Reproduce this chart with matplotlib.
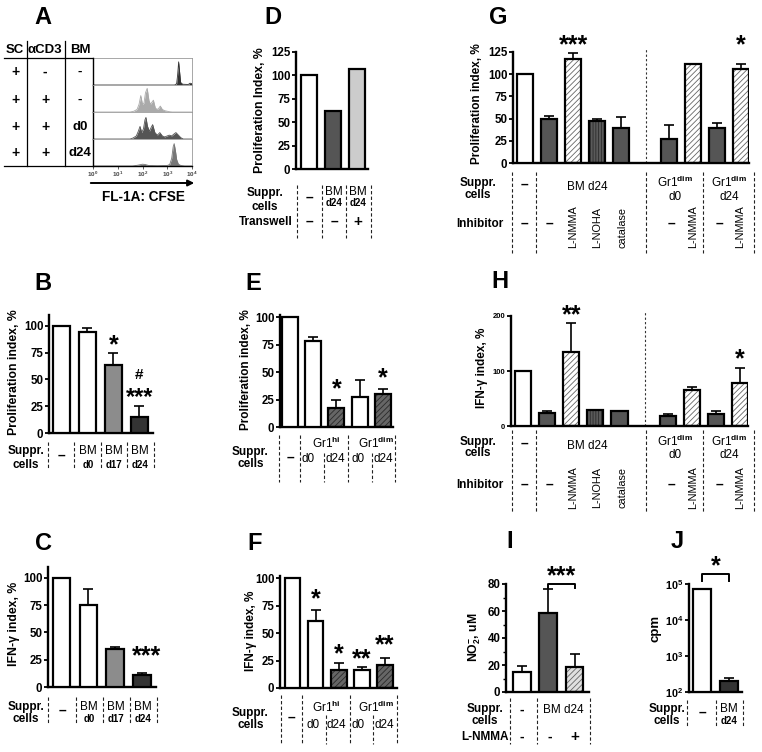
import matplotlib.pyplot as plt
import numpy as np

plt.rcParams['font.family'] = ['Liberation Sans', 'DejaVu Sans']
plt.rcParams['font.weight'] = 'bold'
plt.rcParams['mathtext.fontset'] = 'custom'
plt.rcParams['mathtext.rm'] = 'Liberation Sans'
plt.rcParams['mathtext.bf'] = 'Liberation Sans:bold'
plt.rcParams['mathtext.it'] = 'Liberation Sans:italic'
plt.rcParams['hatch.linewidth'] = 0.6

W, H = 762, 752

# ---- data -------------------------------------------------------------
# A: CFSE histograms, (log10 intensity, relative height)
hist_none = [(0, 0), (3.30, 0), (3.38, 0.05), (3.42, 0.4), (3.46, 0.9), (3.50, 0.5),
             (3.54, 0.1), (3.62, 0.03), (3.85, 0.02), (3.92, 0.07), (4.0, 0.05)]
hist_cd3 = [(0, 0), (1.5, 0), (1.65, 0.03), (1.78, 0.1), (1.86, 0.3), (1.93, 0.64), (2.0, 0.3),
            (2.06, 0.35), (2.12, 0.75), (2.19, 0.92), (2.26, 0.45), (2.32, 0.3), (2.38, 0.38),
            (2.44, 0.46), (2.52, 0.15), (2.6, 0.1), (2.66, 0.15), (2.72, 0.23), (2.8, 0.1),
            (2.9, 0.05), (3.1, 0.01), (3.2, 0), (4.0, 0)]
hist_d0 = [(0, 0), (1.5, 0), (1.62, 0.04), (1.75, 0.12), (1.83, 0.3), (1.9, 0.49), (1.97, 0.25),
           (2.04, 0.4), (2.1, 0.75), (2.14, 0.84), (2.2, 0.5), (2.28, 0.3), (2.35, 0.45),
           (2.41, 0.56), (2.5, 0.25), (2.6, 0.15), (2.7, 0.25), (2.8, 0.12), (2.9, 0.08),
           (3.0, 0.12), (3.08, 0.15), (3.18, 0.12), (3.28, 0.2), (3.35, 0.25), (3.45, 0.15),
           (3.55, 0.05), (3.65, 0), (4.0, 0)]
hist_d24 = [(0, 0), (1.6, 0), (1.8, 0.03), (2.0, 0.07), (2.1, 0.06), (2.25, 0.02), (2.6, 0.01),
            (3.0, 0.02), (3.1, 0.06), (3.18, 0.3), (3.24, 0.75), (3.28, 0.87), (3.33, 0.6),
            (3.38, 0.25), (3.45, 0.07), (3.55, 0.02), (3.7, 0), (4.0, 0)]
hist_colors = ['#333333', '#aaaaaa', '#555555', '#777777']

b_vals = [100, 94, 63, 15]
b_err = [0, 4, 12, 10.5]
b_style = ['white', 'white', 'mid', 'black']

c_vals = [100, 75, 35, 11]
c_err = [0, 15, 2, 2]
c_style = ['white', 'white', 'mid', 'black']

d_vals = [100, 62, 107]
d_style = ['white', 'dark', 'light']

e_vals = [100, 78, 17.5, 27.5, 30.5]
e_err = [0, 4, 7.5, 15.5, 4.5]
f_vals = [100, 61, 16.5, 16, 20.5]
f_err = [0, 10, 6.5, 3.5, 7]
ef_style = ['white', 'white', 'hatchdark', 'white', 'hatchdark']

gh_pos = [0, 1, 2, 3, 4, 6, 7, 8, 9]
g_vals = [100, 49.5, 117, 47, 39, 27, 112, 39, 106]
g_err = [0, 3.5, 6.5, 3, 13, 16, 0, 6, 5]
h_vals = [100, 24, 134, 30, 27.5, 18, 65, 21, 79]
h_err = [0, 4, 54, 0, 0, 3, 6, 7, 26]
gh_style = ['white', 'dark', 'hatchlight', 'vhatch', 'dark', 'dark', 'hatchlight', 'dark', 'hatchlight']

i_vals = [15, 58.5, 18.3]
i_err = [4.5, 17.5, 9.7]
i_style = ['white', 'dark', 'hatchgray']

j_vals = [7.1e4, 206]
j_err = [0, 34]
j_style = ['white', 'black']

styles = {
    'white': ('white', None, None),
    'mid': ('#8c8c8c', None, None),
    'black': ('#333333', None, None),
    'dark': ('#555555', None, None),
    'light': ('#cccccc', None, None),
    'hatchdark': ('#666666', '//////', '#2a2a2a'),
    'hatchlight': ('white', '//////', '#666666'),
    'hatchgray': ('#e0e0e0', '//////', '#666666'),
    'vhatch': ('#5a5a5a', '||||||', '#2a2a2a'),
}

LAB = 8.8    # axis titles
TCK = 8.3    # tick labels
TAB = 8.5    # table text
SUB = 7      # small bold d0/d24 under BM
DASH = 10

fig = plt.figure(figsize=(W / 100, H / 100), dpi=100)


def add_ax(x0, x1, ybot, ytop):
    return fig.add_axes([x0 / W, 1 - ybot / H, (x1 - x0) / W, (ybot - ytop) / H])


def bar_panel(ax, x, vals, errs, kinds, width=0.66, bottom=0, tick_size=TCK):
    for xi, v, k in zip(x, vals, kinds):
        fc, hatch, hc = styles[k]
        if hatch:
            ax.bar(xi, v - bottom, width, bottom=bottom, color=fc, hatch=hatch,
                   edgecolor=hc, linewidth=0, zorder=2)
            ax.bar(xi, v - bottom, width, bottom=bottom, fill=False,
                   edgecolor='black', linewidth=1.6, zorder=3)
        else:
            ax.bar(xi, v - bottom, width, bottom=bottom, color=fc,
                   edgecolor='black', linewidth=1.6, zorder=3)
    if errs is not None:
        xe = [xi for xi, e in zip(x, errs) if e > 0]
        ve = [v for v, e in zip(vals, errs) if e > 0]
        ee = [e for e in errs if e > 0]
        ax.errorbar(xe, ve, yerr=[np.zeros(len(ee)), ee], fmt='none', ecolor='black',
                    elinewidth=1.2, capsize=3.5, capthick=1.2, zorder=4)
    for s in ['top', 'right']:
        ax.spines[s].set_visible(False)
    for s in ['left', 'bottom']:
        ax.spines[s].set_linewidth(1.7)
    ax.set_xticks([])
    ax.tick_params(axis='y', length=3, width=1.3, labelsize=tick_size, pad=1)
    for lab in ax.get_yticklabels():
        lab.set_fontweight('bold')


def stars(ax, x, y, s, size=18):
    ax.text(x, y, s, ha='center', va='center', fontsize=size, fontweight='bold', clip_on=False)


# overlay in pixel coordinates for labels / tables
ov = fig.add_axes([0, 0, 1, 1], zorder=10)
ov.set_xlim(0, W)
ov.set_ylim(H, 0)
ov.axis('off')


def T(x, y, s, size=TAB, weight='bold', **kw):
    ov.text(x, y, s, ha=kw.pop('ha', 'center'), va=kw.pop('va', 'center'),
            fontsize=size, fontweight=weight, **kw)


def DL(x, y0, y1, **kw):
    ov.plot([x, x], [y0, y1], color='#222222', lw=0.8, ls=(0, (3, 2)), **kw)


# panel letters
for letter, lx, ly in [('A', 43, 17), ('B', 43, 283), ('C', 43, 543), ('D', 273, 17),
                       ('E', 253, 283), ('F', 255, 543), ('G', 498, 17), ('H', 500, 282),
                       ('I', 510, 542), ('J', 677, 542)]:
    T(lx, ly, letter, size=17)

# ---- A ---------------------------------------------------------------
rows = [58, 85, 112, 139, 166]
for i, (hist, col) in enumerate(zip([hist_none, hist_cd3, hist_d0, hist_d24], hist_colors)):
    ax = add_ax(93, 192, rows[i + 1], rows[i])
    hx = [p[0] for p in hist]
    hy = [p[1] for p in hist]
    ax.fill_between(hx, hy, color=col, lw=0)
    ax.plot(hx, hy, color=col, lw=0.6)
    ax.set_xlim(0, 4)
    ax.set_ylim(0, 1.05)
    ax.set_yticks([])
    for s in ['top', 'right', 'bottom']:
        ax.spines[s].set_color('#999999')
        ax.spines[s].set_linewidth(0.6)
    ax.spines['left'].set_linewidth(1.0)
    if i < 3:
        ax.set_xticks([])
    else:
        ax.spines['bottom'].set_color('black')
        ax.spines['bottom'].set_linewidth(1.0)
        ax.set_xticks([0, 1, 2, 3, 4])
        ax.set_xticklabels([r'$10^{%d}$' % k for k in range(5)])
        ax.tick_params(axis='x', length=2, width=0.6, labelsize=4.5, pad=1, colors='#444444')

T(15, 50, 'SC', size=9.5)
T(45, 50, 'αCD3', size=9.5)
T(80, 50, 'BM', size=9.5)
ov.plot([27, 27], [41, 166], color='black', lw=0.9)
ov.plot([65, 65], [41, 166], color='black', lw=0.9)
ov.plot([4, 93], [57.5, 57.5], color='black', lw=0.9)
ov.plot([4, 93], [166, 166], color='black', lw=0.9)
a_rows = [('+', '-', '-'), ('+', '+', '-'), ('+', '+', 'd0'), ('+', '+', 'd24')]
for ry, (c1, c2, c3) in zip([72, 100, 127, 153], a_rows):
    T(15, ry, c1, size=10)
    T(45, ry, c2, size=10)
    T(80, ry, c3, size=9.5)
ov.annotate('', xy=(197, 183), xytext=(88, 183),
            arrowprops=dict(arrowstyle='-|>', color='black', lw=1.4, mutation_scale=9))
T(143, 197, 'FL-1A: CFSE', size=9.8)

# ---- B ---------------------------------------------------------------
ax = add_ax(49, 153, 433, 315)
bar_panel(ax, range(4), b_vals, b_err, b_style, width=0.65)
ax.set_xlim(-0.48, 3.52)
ax.set_ylim(0, 110)
ax.set_yticks([0, 25, 50, 75, 100])
stars(ax, 2, 82, '*')
stars(ax, 3, 54, '#', size=11)
stars(ax, 3, 33, '***', size=17)
T(14, 372, 'Proliferation index, %', size=LAB, rotation=90)
for x in [48, 74, 101, 127, 154]:
    DL(x, 442, 469)
T(26, 451, 'Suppr.')
T(26, 465, 'cells')
T(61, 456, '–', size=DASH)
for x, d in [(88, 'd0'), (114, 'd17'), (140, 'd24')]:
    T(x, 451, 'BM', weight='normal')
    T(x, 465, d, size=SUB)

# ---- C ---------------------------------------------------------------
ax = add_ax(48, 156, 687, 567)
bar_panel(ax, range(4), c_vals, c_err, c_style, width=0.65)
ax.set_xlim(-0.5, 3.52)
ax.set_ylim(0, 110)
ax.set_yticks([0, 25, 50, 75, 100])
stars(ax, 3.15, 28, '***')
T(14, 624, 'IFN-γ index, %', size=LAB, rotation=90)
for x in [48, 76, 103, 130, 157]:
    DL(x, 697, 724)
T(26, 707, 'Suppr.')
T(26, 719, 'cells')
T(62, 711, '–', size=DASH)
for x, d in [(89, 'd0'), (116, 'd17'), (143, 'd24')]:
    T(x, 707, 'BM', weight='normal')
    T(x, 719, d, size=SUB)

# ---- D ---------------------------------------------------------------
ax = add_ax(296, 368, 169, 52)
bar_panel(ax, range(3), d_vals, None, d_style, width=0.7)
ax.set_xlim(-0.54, 2.46)
ax.set_ylim(0, 125)
ax.set_yticks([0, 25, 50, 75, 100, 125])
T(260, 110, 'Proliferation Index, %', size=LAB, rotation=90)
for x in [297, 322, 346, 371]:
    DL(x, 185, 238)
T(265, 193, 'Suppr.')
T(265, 207, 'cells')
T(266, 222, 'Transwell')
T(309, 198, '–', size=DASH)
for x in [334, 358]:
    T(x, 192, 'BM', weight='normal')
    T(x, 203, 'd24', size=SUB)
T(309, 222, '–', size=DASH)
T(334, 222, '–', size=DASH)
T(358, 222, '+', size=11)

# ---- E ---------------------------------------------------------------
ax = add_ax(280, 393, 427, 315)
bar_panel(ax, range(5), e_vals, e_err, ef_style, width=0.68)
ax.set_xlim(-0.41, 4.43)
ax.set_ylim(0, 102)
ax.set_yticks([0, 25, 50, 75, 100])
stars(ax, 2, 34, '*')
stars(ax, 4, 44, '*')
T(246, 370, 'Proliferation index, %', size=LAB - 0.3, rotation=90)
for x in [279, 300, 348, 395]:
    DL(x, 435, 482)
for x in [324, 372]:
    DL(x, 453, 482)
T(250, 452, 'Suppr.')
T(251, 464, 'cells')
T(290, 458, '–', size=DASH)
T(326, 443, r'Gr1$^{\mathrm{hi}}$', weight='normal')
T(376, 443, r'Gr1$^{\mathrm{dim}}$', weight='normal')
for x, d in [(308, 'd0'), (335, 'd24'), (358, 'd0'), (383, 'd24')]:
    T(x, 459, d, weight='normal')

# ---- F ---------------------------------------------------------------
ax = add_ax(280, 397, 688, 576)
bar_panel(ax, range(5), f_vals, f_err, ef_style, width=0.68)
ax.set_xlim(-0.54, 4.52)
ax.set_ylim(0, 102)
ax.set_yticks([0, 25, 50, 75, 100])
stars(ax, 1, 81, '*')
stars(ax, 2, 31, '*')
stars(ax, 3, 26, '**')
stars(ax, 4, 39, '**')
T(251, 631, 'IFN-γ index, %', size=LAB - 0.3, rotation=90)
for x in [281, 302, 350, 397]:
    DL(x, 695, 744)
for x in [326, 373]:
    DL(x, 715, 744)
T(250, 713, 'Suppr.')
T(251, 725, 'cells')
T(291, 718, '–', size=DASH)
T(326, 707, r'Gr1$^{\mathrm{hi}}$', weight='normal')
T(376, 707, r'Gr1$^{\mathrm{dim}}$', weight='normal')
for x, d in [(313, 'd0'), (336, 'd24'), (358, 'd0'), (384, 'd24')]:
    T(x, 725, d, weight='normal')

# ---- G ---------------------------------------------------------------
ax = add_ax(513, 749, 163, 52)
bar_panel(ax, gh_pos, g_vals, g_err, gh_style, width=0.67)
ax.set_xlim(-0.5, 9.33)
ax.set_ylim(0, 125)
ax.set_yticks([0, 25, 50, 75, 100, 125])
ax.axvline(5.04, ymin=0, ymax=1.03, color='#333333', lw=0.8, ls=(0, (2, 2)), clip_on=False)
stars(ax, 2, 133, '***')
stars(ax, 9, 133, '*')
T(477, 104, 'Proliferation index, %', size=LAB - 0.3, rotation=90)

# ---- H ---------------------------------------------------------------
ax = add_ax(511, 748, 426, 316)
bar_panel(ax, gh_pos, h_vals, h_err, gh_style, width=0.67, tick_size=5.5)
ax.set_xlim(-0.5, 9.33)
ax.set_ylim(0, 200)
ax.set_yticks([0, 100, 200])
ax.axvline(5.04, ymin=0, ymax=1.05, color='#333333', lw=0.8, ls=(0, (2, 2)), clip_on=False)
stars(ax, 2, 201, '**')
stars(ax, 9, 121, '*')
T(482, 368, 'IFN-γ index, %', size=LAB - 0.3, rotation=90)

# G / H tables
for top, bot, ysup, ycel, yinh in [(172, 253, 183, 195, 224), (430, 512, 442, 453, 485)]:
    for x in [512, 536, 646, 703, 754]:
        DL(x, top, bot)
    T(478, ysup, 'Suppr.')
    T(478, ycel, 'cells')
    T(480, yinh, 'Inhibitor')
    T(524, ysup + 2, '–', size=DASH)
    T(587, ysup + 4, 'BM d24', weight='normal')
    T(675, ysup - 1, r'Gr1$^{\mathbf{dim}}$', weight='normal')
    T(675, ycel + 2, 'd0', weight='normal')
    T(729, ysup - 1, r'Gr1$^{\mathbf{dim}}$', weight='normal')
    T(729, ycel + 2, 'd24', weight='normal')
    for x in [524, 549, 671, 719]:
        T(x, yinh, '–', size=DASH)
    for x, s in [(573, 'L-NMMA'), (597, 'L-NOHA'), (622, 'catalase'), (693, 'L-NMMA'), (740, 'L-NMMA')]:
        T(x, yinh + 3, s, size=7.8, weight='normal', rotation=90)

# ---- I ---------------------------------------------------------------
ax = add_ax(506, 589, 692, 584)
bar_panel(ax, range(3), i_vals, i_err, i_style, width=0.68)
ax.set_xlim(-0.61, 2.55)
ax.set_ylim(0, 80)
ax.set_yticks([0, 20, 40, 60, 80])
ax.set_yticks([10, 30, 50, 70], minor=True)
ax.tick_params(axis='y', which='minor', length=2, width=1)
ax.plot([1, 1, 2, 2], [77, 80, 80, 77], color='black', lw=1.4, clip_on=False)
stars(ax, 1.5, 86, '***')
T(475, 637, r'NO$_2^{\mathbf{-}}$, uM', size=LAB, rotation=90)
for x in [510, 537, 590]:
    DL(x, 698, 744)
T(485, 709, 'Suppr.')
T(485, 721, 'cells')
T(485, 737, 'L-NMMA')
T(522, 710, '-', size=DASH)
T(563, 710, 'BM d24', weight='normal')
T(522, 737, '-', size=DASH)
T(550, 737, '-', size=DASH)
T(575, 737, '+', size=11)

# ---- J ---------------------------------------------------------------
ax = add_ax(689, 742, 692, 584)
ax.set_yscale('log')
bar_panel(ax, range(2), j_vals, j_err, j_style, width=0.67, bottom=100)
ax.set_xlim(-0.48, 1.48)
ax.set_ylim(100, 1e5)
ax.set_yticks([1e2, 1e3, 1e4, 1e5])
ax.set_yticklabels([r'$\mathbf{10^{%d}}$' % k for k in range(2, 6)])
ax.minorticks_off()
ax.tick_params(axis='y', labelsize=7.8)
ax.plot([0, 0, 1, 1], [10 ** 5.08, 10 ** 5.28, 10 ** 5.28, 10 ** 5.08], color='black', lw=1.4, clip_on=False)
stars(ax, 0.5, 10 ** 5.5, '*')
T(656, 628, 'cpm', rotation=90, size=9.5)
for x in [687, 716, 743]:
    DL(x, 700, 726)
T(667, 709, 'Suppr.')
T(667, 721, 'cells')
T(702, 713, '–', size=DASH)
T(729, 709, 'BM', weight='normal')
T(729, 721, 'd24', size=SUB)

fig.savefig('out.png', dpi=100)
